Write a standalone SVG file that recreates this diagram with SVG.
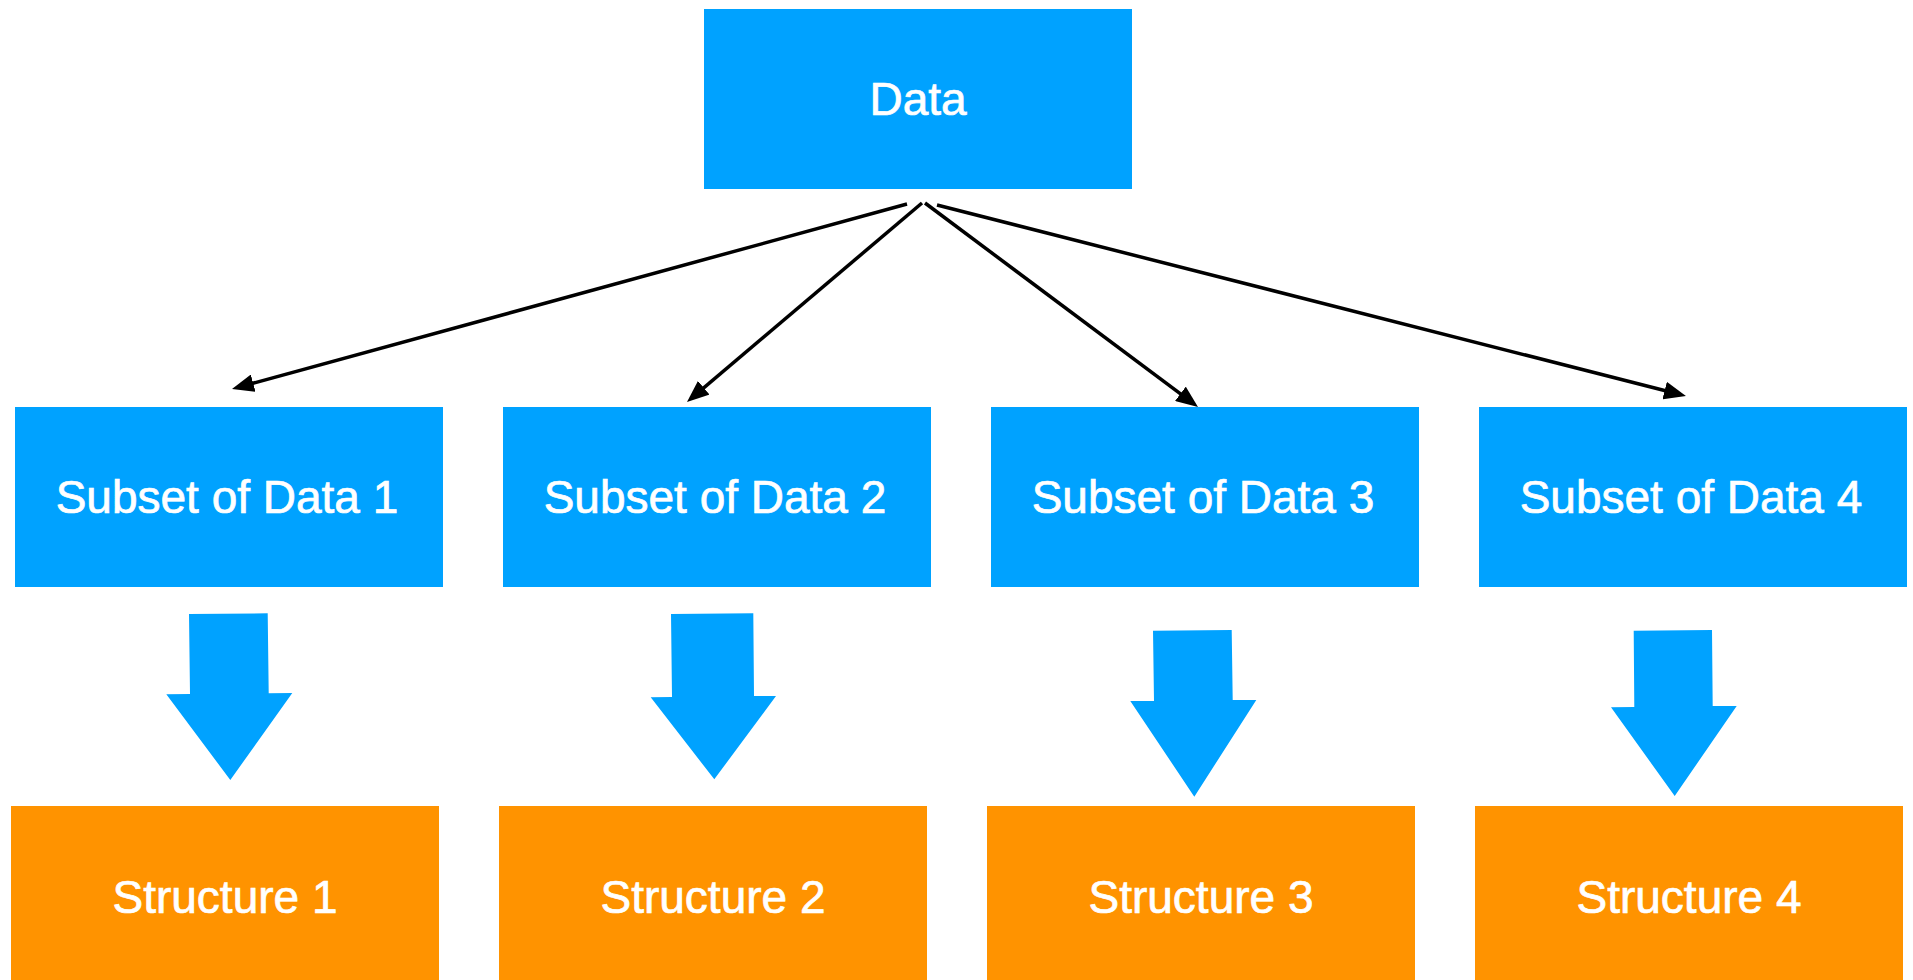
<svg xmlns="http://www.w3.org/2000/svg" width="1913" height="980" viewBox="0 0 1913 980">
  <style>
    .blue { fill: #00A2FF; }
    .orange { fill: #FF9300; }
    .label { fill: #FFFFFF; stroke: #FFFFFF; stroke-width: 0.7; font-family: "Liberation Sans", Arial, Helvetica, sans-serif; font-size: 46px; text-anchor: middle; }
    .link { stroke: #000000; stroke-width: 3.5; fill: none; marker-end: url(#head); }
    .fat { fill: #00A2FF; }
  </style>
  <defs>
    <marker id="head" viewBox="0 0 22 18" refX="14" refY="9" markerWidth="22" markerHeight="18" markerUnits="userSpaceOnUse" orient="auto">
      <path d="M0,0 L22,9 L0,18 z" fill="#000000"/>
    </marker>
  </defs>

  <rect width="1913" height="980" fill="#FFFFFF"/>

  <!-- root node -->
  <g id="data">
    <rect class="blue" x="704" y="9" width="428" height="180"/>
    <text class="label" x="918" y="115">Data</text>
  </g>

  <!-- subsets -->
  <g id="subset1">
    <rect class="blue" x="15" y="407" width="428" height="180"/>
    <text class="label" x="227" y="513">Subset of Data 1</text>
  </g>
  <g id="subset2">
    <rect class="blue" x="503" y="407" width="428" height="180"/>
    <text class="label" x="715" y="513">Subset of Data 2</text>
  </g>
  <g id="subset3">
    <rect class="blue" x="991" y="407" width="428" height="180"/>
    <text class="label" x="1203" y="513">Subset of Data 3</text>
  </g>
  <g id="subset4">
    <rect class="blue" x="1479" y="407" width="428" height="180"/>
    <text class="label" x="1691" y="513">Subset of Data 4</text>
  </g>

  <!-- structures -->
  <g id="structure1">
    <rect class="orange" x="11" y="806" width="428" height="174"/>
    <text class="label" x="225" y="913">Structure 1</text>
  </g>
  <g id="structure2">
    <rect class="orange" x="499" y="806" width="428" height="174"/>
    <text class="label" x="713" y="913">Structure 2</text>
  </g>
  <g id="structure3">
    <rect class="orange" x="987" y="806" width="428" height="174"/>
    <text class="label" x="1201" y="913">Structure 3</text>
  </g>
  <g id="structure4">
    <rect class="orange" x="1475" y="806" width="428" height="174"/>
    <text class="label" x="1689" y="913">Structure 4</text>
  </g>

  <!-- connectors -->
  <g id="connectors">
    <line class="link" x1="907" y1="204" x2="239.7" y2="386.9"/>
    <line class="link" x1="922" y1="203" x2="693.1" y2="396.8"/>
    <line class="link" x1="925" y1="203" x2="1191.6" y2="402.2"/>
    <line class="link" x1="937" y1="205" x2="1678.2" y2="394"/>

    <polygon class="fat" points="189,614 267.7,613.3 268.7,693.3 292.3,693 230.3,780 166.3,694.3 190,694"/>
    <polygon class="fat" points="671,614 753.3,613.3 754,696 776,696 714.3,779.3 650.7,697.3 672,697"/>
    <polygon class="fat" points="1153,630.7 1231.7,630 1232.7,700 1256.3,700 1194.3,796.7 1130.3,701 1154,701"/>
    <polygon class="fat" points="1633.7,630.7 1712,630 1712.7,706 1736.7,706 1674.7,796 1611,707.3 1634.3,707"/>
  </g>
</svg>
